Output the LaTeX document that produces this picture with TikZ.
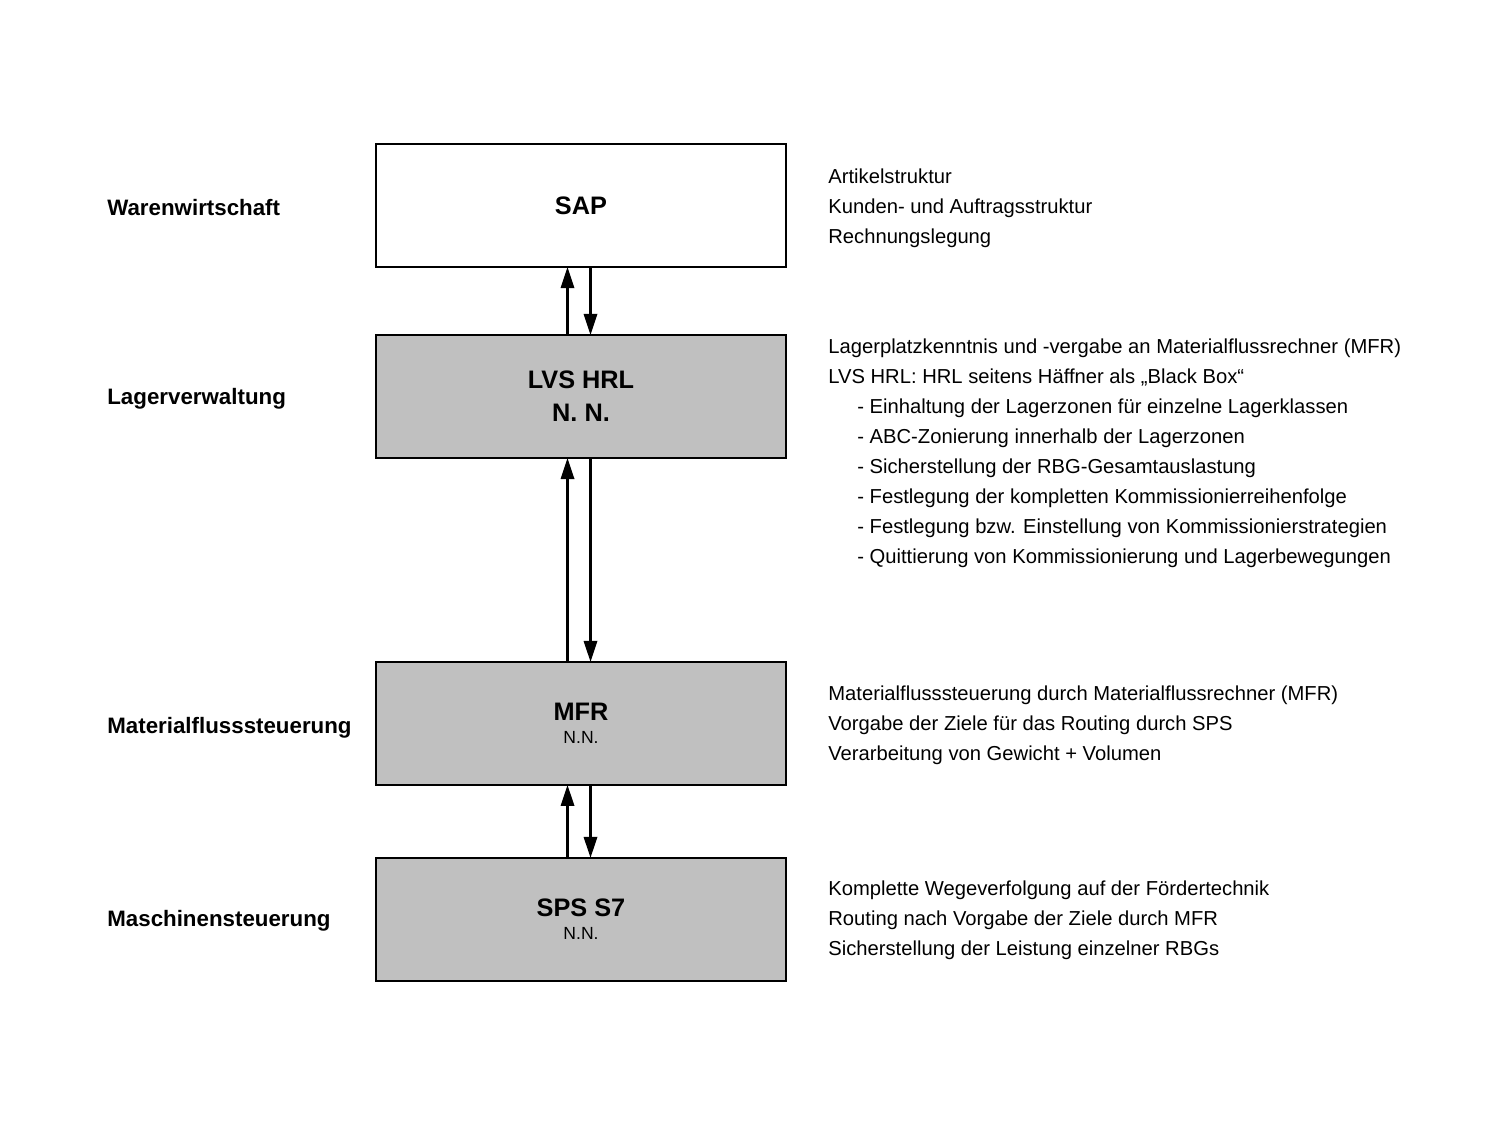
\documentclass[tikz,border=0pt]{standalone}
\usepackage{fontspec}
\setmainfont{Liberation Sans}
\usepackage{xcolor}
\usetikzlibrary{positioning,arrows.meta}
\definecolor{boxgray}{RGB}{192,192,192}

\begin{document}
\begin{tikzpicture}[x=0.02cm, y=-0.02cm, node distance=1.36cm,
    layer/.style={draw, line width=1.3pt, outer sep=0pt, inner sep=0pt, minimum width=8.2cm, minimum height=2.46cm, align=center, font=\fontsize{14.4}{19}\selectfont\bfseries},
    system/.style={layer, fill=boxgray},
    level/.style={anchor=base west, inner sep=0pt, font=\fontsize{12.7}{15}\selectfont\bfseries},
    info/.style={anchor=north west, inner sep=0pt, align=left, font=\fontsize{11.5}{17.07}\selectfont},
    flow/.style={line width=1.3pt, -{Triangle[length=12pt, width=7.6pt]}}]
    \useasboundingbox (0,0) rectangle (1500,1125);

    \node[layer] (sap) at (581,205.5) {SAP};
    \node[system, below=of sap] (lvs) {LVS HRL\\N. N.};
    \node[system, below=4.08cm of lvs] (mfr) {MFR\\[-6pt]{\mdseries\fontsize{10}{12}\selectfont N.N.}};
    \node[system, below=1.46cm of mfr] (sps) {SPS S7\\[-6pt]{\mdseries\fontsize{10}{12}\selectfont N.N.}};

    \node[level] (waren) at (107,215) {Warenwirtschaft};
    \node[level] (lager) at (107,404) {Lagerverwaltung};
    \node[level] (material) at (107,733) {Materialflusssteuerung};
    \node[level] (maschine) at (107,926) {Maschinensteuerung};

    \node[info] (sapinfo) at (828,168.5) {Artikelstruktur\\Kunden- und Auftragsstruktur\\Rechnungslegung};
    \node[info] (lvsinfo) at (828,338.5) {Lagerplatzkenntnis und -vergabe an Materialflussrechner (MFR)\\
        LVS HRL: HRL seitens Häffner als „Black Box“\\
        \hspace*{0.58cm}- Einhaltung der Lagerzonen für einzelne Lagerklassen\\
        \hspace*{0.58cm}- ABC-Zonierung innerhalb der Lagerzonen\\
        \hspace*{0.58cm}- Sicherstellung der RBG-Gesamtauslastung\\
        \hspace*{0.58cm}- Festlegung der kompletten Kommissionierreihenfolge\\
        \hspace*{0.58cm}- Festlegung bzw. Einstellung von Kommissionierstrategien\\
        \hspace*{0.58cm}- Quittierung von Kommissionierung und Lagerbewegungen};
    \node[info] (mfrinfo) at (828,685.5) {Materialflusssteuerung durch Materialflussrechner (MFR)\\Vorgabe der Ziele für das Routing durch SPS\\Verarbeitung von Gewicht + Volumen};
    \node[info] (spsinfo) at (828,880.5) {Komplette Wegeverfolgung auf der Fördertechnik\\Routing nach Vorgabe der Ziele durch MFR\\Sicherstellung der Leistung einzelner RBGs};

    \draw[flow] ([xshift=-0.27cm]lvs.north) -- ([xshift=-0.27cm]sap.south);
    \draw[flow] ([xshift=0.19cm]sap.south) -- ([xshift=0.19cm]lvs.north);
    \draw[flow] ([xshift=-0.27cm]mfr.north) -- ([xshift=-0.27cm]lvs.south);
    \draw[flow] ([xshift=0.19cm]lvs.south) -- ([xshift=0.19cm]mfr.north);
    \draw[flow] ([xshift=-0.27cm]sps.north) -- ([xshift=-0.27cm]mfr.south);
    \draw[flow] ([xshift=0.19cm]mfr.south) -- ([xshift=0.19cm]sps.north);
\end{tikzpicture}
\end{document}
